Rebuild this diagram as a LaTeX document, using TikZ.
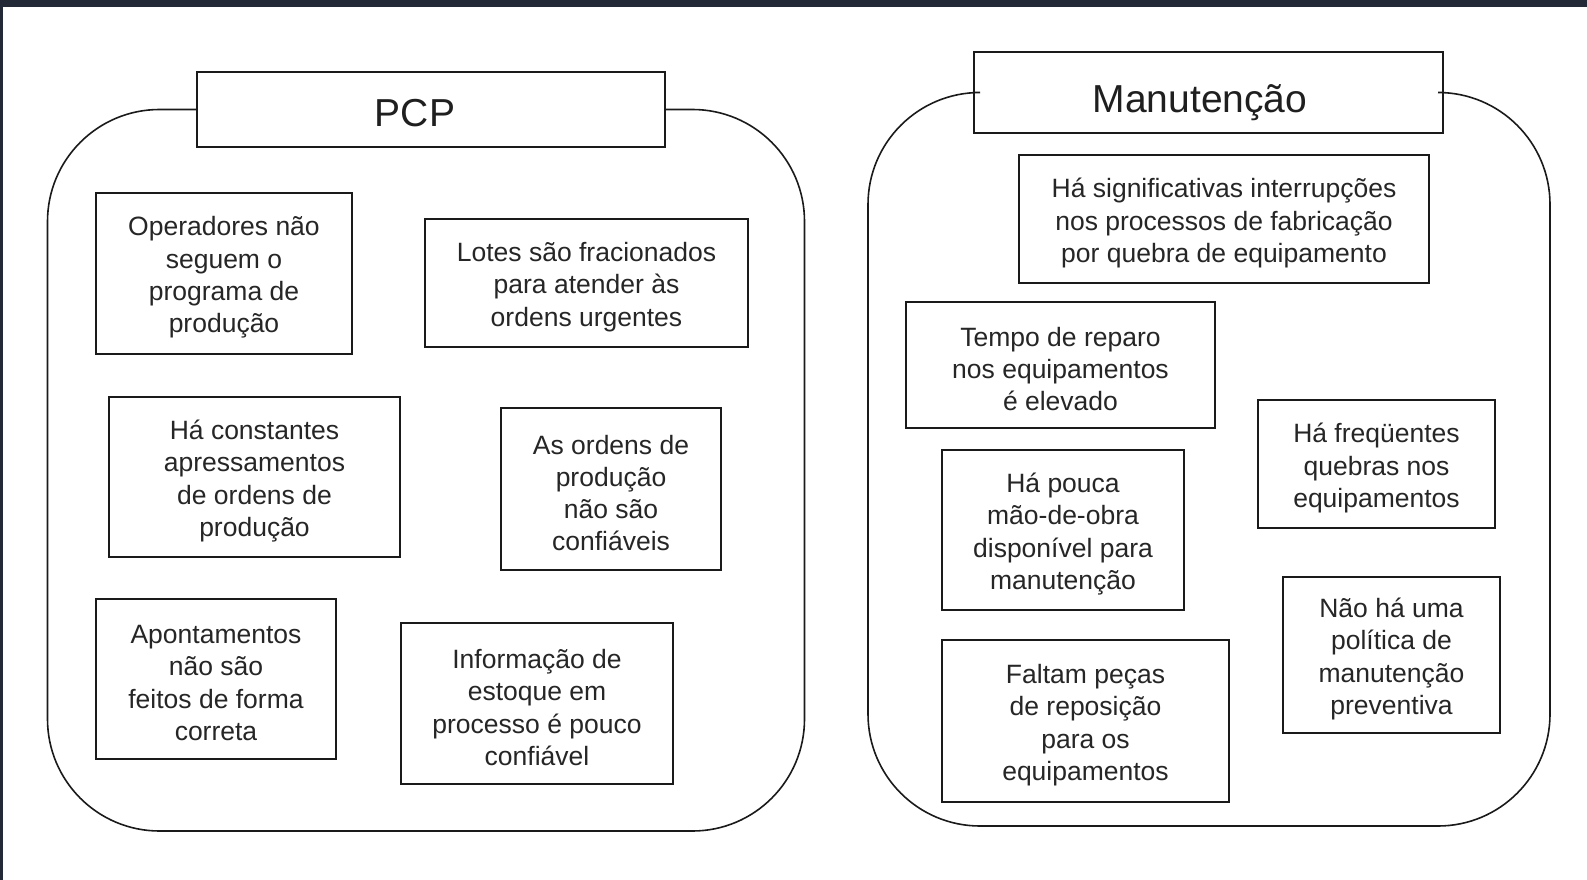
\documentclass[tikz,border=0pt]{standalone}
\usepackage{fontspec}
\setmainfont{Liberation Sans}
\definecolor{framec}{HTML}{232936}
\definecolor{linec}{HTML}{1A1A1A}
\tikzset{
  bx/.style={draw=linec, line width=1.5pt, rectangle, inner sep=0pt},
  tx/.style={align=center, inner sep=0pt, font=\fontsize{26.5}{32.3}\selectfont, text=black!85},
  titlebox/.style={draw=linec, line width=1.5pt, rectangle, inner sep=0pt},
  titletext/.style={font=\fontsize{39}{47}\selectfont, text=black!88, inner sep=0pt},
  container/.style={draw=linec, line width=1.6pt, rounded corners=112pt},
}
\begin{document}
\begin{tikzpicture}[x=1pt,y=-1pt]
\useasboundingbox (0,0) rectangle (1587,880);
\fill[white] (0,0) rectangle (1587,880);
\fill[framec] (0,0) rectangle (1587,7);
\fill[framec] (0,0) rectangle (2.5,880);

% PCP group
\node[titlebox, minimum width=468pt, minimum height=75pt] (pcp) at (431,109.5) {};
\node[titletext] (pcpt) at (415,113) {PCP};
\draw[container] (pcp.west) -- (47.5,109.5) -- (47.5,831) -- (804.5,831) -- (804.5,109.5) -- (pcp.east);

\node[bx, minimum width=256pt, minimum height=161pt] (op) at (224,273.5) {};
\node[tx] (opt) at ([yshift=-4pt]op.center) {Operadores não\\seguem o\\programa de\\produção};
\node[bx, minimum width=323pt, minimum height=128pt] (lotes) at (586.5,283) {};
\node[tx] (lotest) at ([yshift=-4pt]lotes.center) {Lotes são fracionados\\para atender às\\ordens urgentes};
\node[bx, minimum width=291pt, minimum height=160pt] (const) at (254.5,477) {};
\node[tx] (constt) at ([yshift=-4pt]const.center) {Há constantes\\apressamentos\\de ordens de\\produção};
\node[bx, minimum width=220pt, minimum height=162pt] (ordens) at (611,489) {};
\node[tx] (ordenst) at ([yshift=-4pt]ordens.center) {As ordens de\\produção\\não são\\confiáveis};
\node[bx, minimum width=240pt, minimum height=160pt] (apont) at (216,679) {};
\node[tx] (apontt) at ([yshift=-4pt]apont.center) {Apontamentos\\não são\\feitos de forma\\correta};
\node[bx, minimum width=272pt, minimum height=161pt] (info) at (537,703.5) {};
\node[tx] (infot) at ([yshift=-4pt]info.center) {Informação de\\estoque em\\processo é pouco\\confiável};

% Manutencao group
\node[titlebox, minimum width=469pt, minimum height=81pt] (man) at (1208.5,92.5) {};
\node[titletext] (mant) at (1200,103) {Manutenção};
\draw[container] (man.west) -- (868,92.5) -- (868,826) -- (1550,826) -- (1550,92.5) -- (man.east);

\node[bx, minimum width=410pt, minimum height=128pt] (interr) at (1224,219) {};
\node[tx] (interrt) at ([yshift=-4pt]interr.center) {Há significativas interrupções\\nos processos de fabricação\\por quebra de equipamento};
\node[bx, minimum width=309pt, minimum height=126pt] (tempo) at (1060.5,365) {};
\node[tx] (tempot) at ([yshift=-4pt]tempo.center) {Tempo de reparo\\nos equipamentos\\é elevado};
\node[bx, minimum width=242pt, minimum height=160pt] (pouca) at (1063,530) {};
\node[tx] (poucat) at ([yshift=-4pt]pouca.center) {Há pouca\\mão-de-obra\\disponível para\\manutenção};
\node[bx, minimum width=287pt, minimum height=162pt] (faltam) at (1085.5,721) {};
\node[tx] (faltamt) at ([yshift=-4pt]faltam.center) {Faltam peças\\de reposição\\para os\\equipamentos};
\node[bx, minimum width=237pt, minimum height=128pt] (freq) at (1376.5,464) {};
\node[tx] (freqt) at ([yshift=-4pt]freq.center) {Há freqüentes\\quebras nos\\equipamentos};
\node[bx, minimum width=217pt, minimum height=156pt] (nao) at (1391.5,655) {};
\node[tx] (naot) at ([yshift=-4pt]nao.center) {Não há uma\\política de\\manutenção\\preventiva};
\end{tikzpicture}
\end{document}
